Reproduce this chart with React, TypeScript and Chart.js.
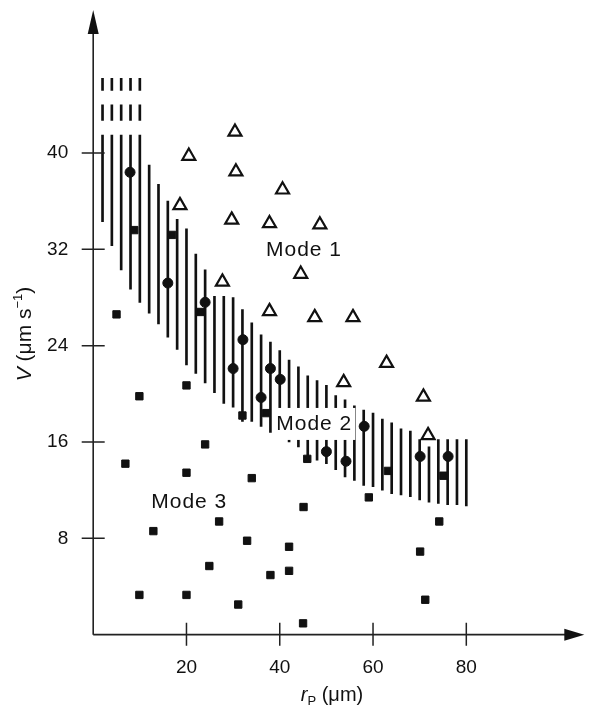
import React, { useEffect, useRef } from "react";
import { Chart, registerables } from "chart.js";

Chart.register(...registerables);

// ---- data ----
const xTickValues = [20, 40, 60, 80];
const yTickValues = [8, 16, 24, 32, 40];

// Mode 1 (open triangles)
const mode1X = [20.5, 30.4, 30.6, 18.6, 29.7, 40.6, 37.8, 48.6, 27.7, 44.5, 37.8, 47.5, 55.7, 62.9, 53.7, 70.8, 71.8];
const mode1Y = [39.75, 41.75, 38.45, 35.65, 34.45, 36.95, 34.15, 34.05, 29.3, 29.95, 26.85, 26.35, 26.35, 22.55, 20.95, 19.75, 16.55];

// Mode 2 (filled circles)
const mode2X = [7.9, 16.0, 24.0, 32.1, 30.0, 38.0, 40.1, 36.0, 58.1, 50.0, 54.2, 70.1, 76.1];
const mode2Y = [38.4, 29.2, 27.6, 24.5, 22.1, 22.1, 21.2, 19.7, 17.3, 15.2, 14.4, 14.8, 14.8];

// Mode 3 (filled squares)
const mode3X = [5.0, 8.8, 16.9, 23.0, 6.9, 9.9, 20.0, 24.0, 20.0, 32.0, 37.1, 34.0, 12.9, 27.0, 33.0, 42.0, 24.9, 38.0, 42.0, 9.9, 20.0, 31.1, 45.0, 45.1, 45.9, 59.1, 63.2, 75.1, 74.2, 70.1, 71.2];
const mode3Y = [26.6, 33.6, 33.2, 26.8, 14.2, 19.8, 20.7, 15.8, 13.45, 18.2, 18.4, 13.0, 8.6, 9.4, 7.8, 7.3, 5.7, 4.95, 5.3, 3.3, 3.3, 2.5, 0.94, 10.6, 14.6, 11.4, 13.6, 13.2, 9.4, 6.9, 2.9];

// Hatched band (vertical lines)
const bandX = [2, 4, 6, 8, 10, 12, 14, 16, 18, 20, 22, 24, 26, 28, 30, 32, 34, 36, 38, 40, 42, 44, 46, 48, 50, 52, 54, 56, 58, 60, 62, 64, 66, 68, 70, 72, 74, 76, 78, 80];
const bandLow = [34.3, 32.3, 30.3, 28.7, 27.6, 26.7, 25.8, 24.7, 23.7, 22.4, 21.7, 20.9, 20.1, 19.2, 18.9, 17.7, 17.7, 17.3, 16.8, 16.3, 16.0, 15.6, 14.6, 14.5, 14.2, 13.7, 13.1, 12.8, 12.4, 12.3, 12.0, 11.7, 11.6, 11.45, 11.2, 11.0, 10.9, 10.8, 10.8, 10.7];
const bandHigh = [41.5, 41.5, 41.5, 41.5, 41.5, 39.0, 37.4, 36.0, 34.5, 33.7, 31.6, 30.3, 28.1, 28.1, 28.0, 27.0, 25.9, 24.9, 24.3, 23.6, 22.8, 22.25, 21.5, 21.1, 20.7, 19.85, 19.5, 19.0, 18.65, 18.4, 17.9, 17.6, 17.1, 16.9, 16.2, 15.6, 16.2, 16.2, 16.2, 16.2];
// broken (dashed) tops of the first lines
const capX = [2, 4, 6, 8, 10];
const capALow = [42.7, 42.7, 42.7, 42.7, 42.7];
const capAHigh = [44.0, 44.0, 44.0, 44.0, 44.0];
const capBLow = [45.2, 45.2, 45.2, 45.2, 45.2];
const capBHigh = [46.2, 46.2, 46.2, 46.2, 46.2];

// annotations
const modeLabels = ["Mode 1", "Mode 2", "Mode 3"];
const modeLabelX = [45.2, 47.4, 20.6];
const modeLabelY = [31.9, 17.5, 11.0];
const modeLabelBg = [false, true, false];

const FONT = "'Liberation Sans', Arial, Helvetica, sans-serif";
const INK = "#111";

const pts = (xs: number[], ys: number[]) => xs.map((x, i) => ({ x, y: ys[i] }));
const bars = (xs: number[], lo: number[], hi: number[]) => xs.map((x, i) => ({ x, y: [lo[i], hi[i]] }));

function drawSegments(ctx: CanvasRenderingContext2D, segs: { t: string; font: string; dy: number }[], cx: number) {
  let total = 0;
  for (const s of segs) {
    ctx.font = s.font;
    total += ctx.measureText(s.t).width;
  }
  let x = cx - total / 2;
  for (const s of segs) {
    ctx.font = s.font;
    ctx.fillText(s.t, x, s.dy);
    x += ctx.measureText(s.t).width;
  }
}

const decorPlugin = {
  id: "decor",
  afterDatasetsDraw(chart: any) {
    const { ctx, scales } = chart;
    const xs = scales.x;
    const ys = scales.y;
    ctx.save();
    ctx.font = `21px ${FONT}`;
    try {
      (ctx as any).letterSpacing = "1px";
    } catch (e) {
      /* ignore */
    }
    ctx.textAlign = "center";
    ctx.textBaseline = "middle";
    modeLabels.forEach((lab, i) => {
      const px = xs.getPixelForValue(modeLabelX[i]);
      const py = ys.getPixelForValue(modeLabelY[i]);
      if (modeLabelBg[i]) {
        const w = ctx.measureText(lab).width;
        ctx.fillStyle = "#fff";
        ctx.fillRect(px - w / 2 - 3, py - 16, w + 6, 32);
      }
      ctx.fillStyle = INK;
      ctx.fillText(lab, px, py);
    });
    ctx.restore();
  },
  afterDraw(chart: any) {
    const { ctx, scales } = chart;
    const xs = scales.x;
    const ys = scales.y;
    const x0 = xs.getPixelForValue(0);
    const y0 = ys.getPixelForValue(0);
    const xEnd = xs.getPixelForValue(xs.max);
    const yEnd = ys.getPixelForValue(ys.max);
    ctx.save();
    ctx.strokeStyle = "#222";
    ctx.fillStyle = "#111";
    ctx.lineWidth = 1.6;
    // axes
    ctx.beginPath();
    ctx.moveTo(x0, y0);
    ctx.lineTo(x0, yEnd + 18);
    ctx.moveTo(x0, y0);
    ctx.lineTo(xEnd - 16, y0);
    ctx.stroke();
    // arrows
    ctx.beginPath();
    ctx.moveTo(x0, yEnd);
    ctx.lineTo(x0 - 5.5, yEnd + 24);
    ctx.lineTo(x0 + 5.5, yEnd + 24);
    ctx.closePath();
    ctx.fill();
    ctx.beginPath();
    ctx.moveTo(xEnd, y0);
    ctx.lineTo(xEnd - 20, y0 - 6);
    ctx.lineTo(xEnd - 20, y0 + 6);
    ctx.closePath();
    ctx.fill();
    // crossing ticks
    ctx.lineWidth = 1.5;
    ctx.beginPath();
    yTickValues.forEach((v) => {
      const py = ys.getPixelForValue(v);
      ctx.moveTo(x0 - 11.5, py);
      ctx.lineTo(x0 + 11.5, py);
    });
    xTickValues.forEach((v) => {
      const px = xs.getPixelForValue(v);
      ctx.moveTo(px, y0 - 12);
      ctx.lineTo(px, y0 + 11);
    });
    ctx.stroke();

    // axis titles
    ctx.fillStyle = INK;
    ctx.textBaseline = "alphabetic";
    ctx.textAlign = "left";
    // x title
    ctx.save();
    ctx.translate(0, 701);
    drawSegments(
      ctx,
      [
        { t: "r", font: `italic 20px ${FONT}`, dy: 0 },
        { t: "P", font: `13px ${FONT}`, dy: 4 },
        { t: " (μm)", font: `20px ${FONT}`, dy: 0 },
      ],
      332
    );
    ctx.restore();
    // y title
    ctx.save();
    ctx.translate(31, 0);
    ctx.rotate(-Math.PI / 2);
    drawSegments(
      ctx,
      [
        { t: "V", font: `italic 21px ${FONT}`, dy: 0 },
        { t: " (μm s", font: `21px ${FONT}`, dy: 0 },
        { t: "−1", font: `13px ${FONT}`, dy: -9 },
        { t: ")", font: `21px ${FONT}`, dy: 0 },
      ],
      -334
    );
    ctx.restore();
    ctx.restore();
  },
};

export default function App() {
  const ref = useRef<HTMLCanvasElement | null>(null);

  useEffect(() => {
    if (!ref.current) return;
    const barCommon = {
      type: "bar" as const,
      backgroundColor: "#111",
      borderWidth: 0,
      barThickness: 2,
      grouped: false,
    };
    const chart = new Chart(ref.current, {
      type: "scatter",
      data: {
        datasets: [
          {
            label: "Mode 1",
            data: pts(mode1X, mode1Y),
            pointStyle: "triangle",
            pointRadius: 7.5,
            pointBorderWidth: 2.2,
            pointBackgroundColor: "#fff",
            pointBorderColor: "#111",
          } as any,
          {
            label: "Mode 2",
            data: pts(mode2X, mode2Y),
            pointStyle: "circle",
            pointRadius: 5,
            pointBorderWidth: 1,
            pointBackgroundColor: "#111",
            pointBorderColor: "#111",
          },
          {
            label: "Mode 3",
            data: pts(mode3X, mode3Y),
            pointStyle: "rect",
            pointRadius: 5.2,
            pointBorderWidth: 1,
            pointBackgroundColor: "#111",
            pointBorderColor: "#111",
          },
          { ...barCommon, label: "band", data: bars(bandX, bandLow, bandHigh) } as any,
          { ...barCommon, label: "capA", data: bars(capX, capALow, capAHigh) } as any,
          { ...barCommon, label: "capB", data: bars(capX, capBLow, capBHigh) } as any,
        ],
      },
      options: {
        animation: false,
        responsive: false,
        maintainAspectRatio: false,
        devicePixelRatio: 1,
        layout: { padding: { left: 0, right: 3, top: 10, bottom: 0 } },
        plugins: { legend: { display: false }, tooltip: { enabled: false } },
        scales: {
          x: {
            type: "linear",
            min: 0,
            max: 105.3,
            offset: false,
            grid: { display: false, drawTicks: false },
            border: { display: false },
            afterBuildTicks: (s: any) => {
              s.ticks = xTickValues.map((v) => ({ value: v }));
            },
            afterFit: (s: any) => {
              s.height = 76.35;
              s.paddingLeft = 0;
              s.paddingRight = 0;
            },
            ticks: {
              padding: 22,
              maxRotation: 0,
              autoSkip: false,
              color: INK,
              font: { family: FONT, size: 19 },
            },
          },
          y: {
            type: "linear",
            min: 0,
            max: 51.88,
            grid: { display: false, drawTicks: false },
            border: { display: false },
            afterBuildTicks: (s: any) => {
              s.ticks = yTickValues.map((v) => ({ value: v }));
            },
            afterFit: (s: any) => {
              s.width = 93.2;
              s.paddingTop = 0;
              s.paddingBottom = 0;
            },
            ticks: {
              padding: 25,
              autoSkip: false,
              color: INK,
              font: { family: FONT, size: 19 },
            },
          },
        },
      },
      plugins: [decorPlugin],
    });
    return () => chart.destroy();
  }, []);

  return (
    <div style={{ position: "fixed", left: 0, top: 0, width: 594, height: 711, background: "#fff" }}>
      <canvas ref={ref} width={594} height={711} style={{ display: "block" }} />
    </div>
  );
}
